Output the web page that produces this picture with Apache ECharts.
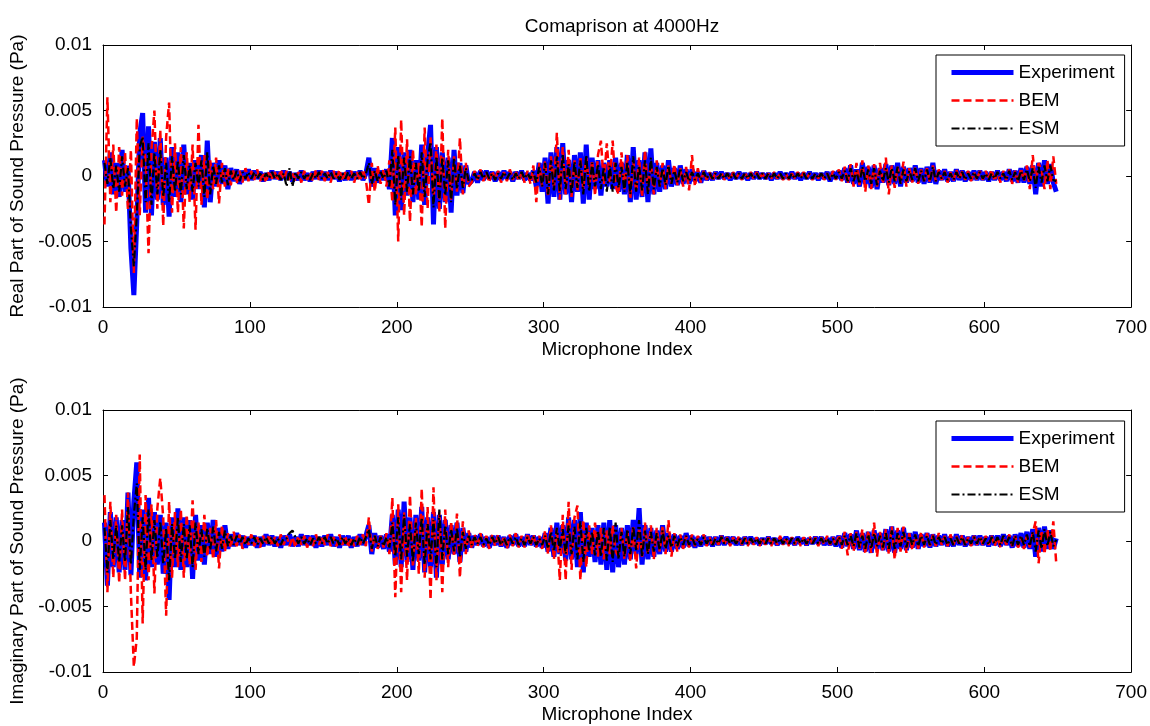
<!DOCTYPE html>
<html>
<head>
<meta charset="utf-8">
<script src="https://cdn.jsdelivr.net/npm/echarts@6/dist/echarts.min.js"></script>
<style>
  html, body { margin: 0; padding: 0; background: #fff; }
  #chart { width: 1150px; height: 726px; }
</style>
</head>
<body>
<div id="chart"></div>
<script>
// pressure values in units of 1e-4 Pa, one value every second microphone (1, 3, 5 ... 649)
const UNIT = 1e-4;

const realExp = [
  12,-8,18,-14,10,-16,20,-12,8,-55,-91,-35,32,48,-28,38,-30,26,-18,29,-22,14,-31,22,-16,
  18,-20,24,-14,10,-18,12,-10,16,-24,27,-20,10,-8,12,-6,8,-10,6,-4,5,-6,4,-3,5,
  -3,4,-2,3,-4,2,-3,4,-2,3,-3,4,-2,3,-4,2,-3,4,-3,2,-4,3,-2,4,-3,
  3,-3,4,-2,3,-4,2,-3,4,-3,3,-2,4,-3,2,14,-8,6,-5,4,-3,5,-10,29,-30,
  22,-26,18,-15,20,-20,12,-18,24,-22,16,39,-37,22,-25,18,-20,14,-28,20,-15,10,-13,8,-6,
  -4,3,-5,4,-3,4,-2,3,-4,3,-3,4,-2,3,-4,3,-2,4,-3,2,-3,4,-8,10,-12,
  14,-21,18,-16,22,-18,25,-14,12,-20,16,-12,18,-21,24,-18,14,-10,12,-15,10,-8,12,-10,14,
  -12,10,-14,16,-20,22,-18,12,-16,18,-20,21,-14,10,-12,8,-10,12,-8,6,-7,8,-6,5,-6,
  5,-4,3,-5,4,-3,2,-3,3,-2,3,-2,2,-3,2,-2,3,-2,2,-3,2,-2,3,-2,2,
  -2,2,-3,2,-2,3,-2,2,-2,3,-2,2,-3,2,-2,3,-2,2,-3,2,-2,3,-4,3,-2,
  4,-3,6,-5,8,-6,5,-8,10,-6,7,-9,8,-10,6,-5,9,-7,8,-6,10,-8,7,-5,6,
  -4,8,-5,6,-6,7,-5,10,-6,4,-3,5,-4,3,-4,5,-3,4,-4,3,-3,4,-3,4,-3,
  3,-4,3,-3,4,-3,3,-4,5,-4,4,-5,6,-5,7,-6,8,-14,10,-8,12,-6,9,-5,-12
];
const realBem = [
  -37,60,-20,24,-28,22,-15,18,-26,20,-74,44,-30,30,12,-59,20,50,-25,35,-38,30,56,-28,25,
  -28,22,-40,18,-20,24,-41,39,-22,16,-18,12,-10,14,-21,10,-8,6,-7,5,-6,4,-5,6,-4,
  4,-3,5,-4,3,-5,4,-2,3,-4,5,-3,4,-3,2,-4,3,-5,4,-3,3,-4,5,-3,4,
  -4,3,-5,4,-3,5,-4,3,-3,4,-5,3,-4,5,-3,-22,10,-12,8,-6,5,-8,12,-20,37,
  -50,43,-30,28,-35,20,-15,10,-39,37,-25,30,-20,24,-28,44,-40,20,-18,15,-12,29,-14,10,-8,
  -5,4,-3,5,-4,3,-5,4,-3,4,-5,3,-4,5,-3,4,-4,3,-5,4,-6,8,-20,10,-8,
  12,-16,15,-10,33,-18,22,-14,20,-16,12,-12,15,-10,14,-8,12,-15,16,27,-6,25,-5,27,-8,
  -14,18,-10,16,-18,12,-12,14,-16,20,-12,10,-14,12,-8,10,-10,8,-6,9,-7,6,-8,7,-11,
  16,-8,6,-5,4,-3,3,-4,3,-2,3,-3,2,-3,3,-2,2,-3,3,-2,3,-2,3,-2,2,
  -3,2,-2,3,-2,2,-3,2,-3,2,-2,3,-2,3,-2,2,-3,2,-2,3,-3,2,-3,4,-3,
  5,-4,7,-6,9,-8,10,-7,12,-12,8,-10,9,-8,10,-6,14,-14,8,-9,7,-6,11,-8,6,
  -5,7,-6,5,-4,6,-5,8,-4,5,-3,4,-5,3,-4,5,-3,4,-3,4,-4,3,-3,4,-3,
  4,-3,5,-4,3,-5,4,-3,5,-6,4,-5,6,-4,8,-10,16,-6,10,4,-10,12,-10,15,-6
];
const realEsm = [
  10,-6,14,-10,8,-12,15,-8,6,-40,-69,-30,22,30,-20,25,-22,18,-14,20,-16,10,-20,15,-12,
  12,-14,16,-10,8,-12,10,-8,12,-16,18,-14,8,-6,8,-5,6,-7,4,-3,4,-4,3,-2,3,
  -2,3,-2,2,-3,2,-2,3,-2,2,-3,2,-8,6,-8,3,-2,3,-2,2,-3,2,-2,3,-2,
  2,-2,3,-2,2,-3,2,-2,3,-2,2,-2,3,-2,2,10,-6,4,-4,3,-2,4,-8,20,-22,
  16,-18,14,-12,15,-14,10,-12,18,-16,12,26,-24,15,-20,14,-15,12,-20,14,-10,8,-9,6,-4,
  -3,2,-3,3,-2,3,-2,2,-3,2,-2,3,-2,2,-3,2,-2,3,-2,2,-2,3,-5,7,-8,
  10,-14,12,-11,15,-12,17,-10,9,-14,11,-9,12,-14,16,-12,10,-8,9,-10,7,-12,8,-12,10,
  -9,7,-12,11,-14,15,-12,8,-11,12,-14,14,-10,7,-8,6,-7,8,-6,4,-5,6,-4,3,-4,
  3,-3,2,-3,3,-2,2,-2,2,-2,2,-2,2,-2,2,-2,2,-2,2,-2,2,-2,2,-2,2,
  -2,2,-2,2,-2,2,-2,2,-2,2,-2,2,-2,2,-2,2,-2,2,-2,2,-2,2,-3,2,-2,
  3,-2,4,-4,6,-4,4,-6,7,-4,5,-6,6,-7,4,-4,6,-5,6,-4,7,-6,5,-4,4,
  -3,6,-4,4,-4,5,-4,7,-4,3,-2,3,-3,2,-3,3,-2,3,-3,2,-2,3,-2,3,-2,
  2,-3,2,-2,3,-2,2,-3,4,-3,3,-4,4,-3,5,-4,6,-9,7,-5,8,-4,8,-3,-4
];

const imagExp = [
  14,-34,22,-20,18,-24,16,-22,37,-26,30,60,-28,24,-30,33,-20,22,-18,20,-25,14,-45,18,-20,
  25,-22,18,-20,16,-29,20,-15,12,-18,14,-10,16,-12,10,-8,12,-6,5,-4,6,-3,4,-5,3,
  -3,4,-5,3,-4,5,-3,4,-4,3,-5,4,-3,5,-4,3,-4,5,-3,4,-3,4,-5,3,-4,
  4,-3,5,-4,3,-5,4,-3,4,-5,3,-4,5,-3,4,12,-10,6,-5,4,-6,5,-8,20,-18,
  24,-20,30,-16,18,-22,20,-15,26,-24,18,-20,22,-28,20,-18,16,-14,12,-10,14,-16,10,-8,6,
  -5,4,-3,5,-4,3,-5,4,-3,4,-4,3,-5,4,-3,5,-4,3,-4,5,-3,4,-4,3,-5,
  6,-8,10,-12,14,-10,12,-15,18,-14,16,-20,22,-24,14,-12,10,-16,12,-18,14,-22,16,-24,12,
  -20,10,-18,12,-14,16,-10,25,-18,12,-14,10,-12,8,-10,12,-8,6,-8,5,-6,4,-5,6,-4,
  4,-5,3,-4,4,-3,3,-4,3,-3,4,-3,3,-2,3,-3,2,-3,3,-2,3,-2,2,-3,2,
  -2,3,-2,2,-3,2,-2,3,-2,2,-3,3,-2,2,-3,2,-2,3,-2,3,-3,2,-3,3,-4,
  4,-5,6,-4,5,-6,8,-7,6,-8,7,-9,8,-6,6,-7,9,-8,11,-9,8,-6,10,-7,6,
  -5,7,-6,5,-4,6,-5,5,-4,4,-3,5,-4,3,-4,5,-3,4,-4,3,-3,4,-3,4,-3,
  3,-4,4,-3,4,-4,5,-3,4,-5,5,-4,6,-5,7,-6,9,-12,10,-8,11,-6,8,-6,2
];
const imagBem = [
  35,-39,30,-28,20,-32,24,-30,37,-40,-96,-74,66,-63,35,-30,28,-40,25,48,18,-57,30,-28,22,
  -20,24,-28,20,-18,31,-22,14,-16,20,-12,10,-14,16,-21,12,-8,6,-5,7,-4,5,-6,4,-3,
  5,-4,3,-5,4,-3,5,-4,3,-4,5,-3,4,-4,3,-5,4,-3,4,-5,3,-4,5,-3,4,
  -3,5,-4,3,-4,5,-3,4,-5,3,-4,4,-3,5,-4,18,-8,5,-6,4,-5,6,-10,33,-43,
  28,-39,22,-30,35,-20,18,-25,40,-28,26,-45,41,-30,22,-39,24,-20,15,-12,21,-28,15,-10,8,
  -6,5,-4,6,-5,4,-6,5,-4,5,-5,4,-6,5,-4,6,-5,4,-5,6,-4,5,-5,4,-6,
  8,-10,12,-14,10,-30,20,-30,30,-22,18,27,-30,16,-20,12,-10,14,-12,10,-14,8,-10,12,-8,
  -12,10,-14,8,-16,12,-21,10,-12,14,-10,12,-14,10,-8,12,-10,16,-12,6,-8,5,-6,4,-5,
  5,-4,4,-3,5,-4,3,-4,3,-3,4,-3,3,-4,3,-3,4,-3,3,-4,3,-3,3,-4,3,
  -3,3,-4,3,-3,4,-3,3,-4,3,-3,3,-4,3,-3,4,-3,3,-4,3,-3,4,-3,3,-4,
  5,-6,7,-11,6,-8,7,-6,9,-10,8,-9,14,-12,7,-8,9,-10,11,-14,10,-8,11,-9,6,
  -7,5,-6,7,-5,6,-4,5,-4,6,-3,4,-4,5,-3,4,-3,5,-4,3,-4,4,-3,4,-3,
  4,-3,4,-4,3,-5,4,-3,5,-4,4,-5,3,-6,4,-5,6,15,-17,8,-10,9,-8,15,-17
];
const imagEsm = [
  10,-24,16,-14,12,-16,12,-16,26,-18,20,44,-22,18,-22,24,-15,16,-13,15,-18,10,-30,13,-14,
  18,-16,13,-14,12,-20,14,-10,9,-12,10,-7,11,-8,7,-6,8,-4,4,-3,4,-2,3,-3,2,
  -2,3,-3,2,-2,3,-2,3,-2,2,-3,2,2,6,8,3,-2,3,-2,2,-3,2,-2,3,-2,
  3,-2,3,-2,2,-3,3,-2,2,-3,2,-3,3,-2,3,9,-6,4,-4,3,-4,3,-5,14,-12,
  18,-14,20,-12,13,-16,14,-10,18,-18,13,-14,16,-20,24,-14,12,-10,9,-8,10,-12,7,-6,4,
  -3,3,-2,3,-3,2,-3,3,-2,3,-3,2,-3,3,-2,3,-3,2,-3,3,-2,3,-3,2,-3,
  4,-6,7,-8,10,-7,9,-10,12,-10,11,-14,15,-16,10,-8,7,-11,8,-12,10,-15,11,-16,14,
  -14,7,-12,9,-10,11,-7,16,-12,8,-10,7,-8,6,-7,8,-6,4,-5,4,-4,3,-3,4,-3,
  3,-3,2,-3,3,-2,2,-3,2,-2,3,-2,2,-2,2,-2,2,-2,2,-2,2,-2,2,-2,2,
  -2,2,-2,2,-2,2,-2,2,-2,2,-2,2,-2,2,-2,2,-2,2,-2,2,-2,2,-2,2,-3,
  3,-3,4,-3,4,-4,6,-5,4,-6,5,-6,6,-4,4,-5,6,-6,8,-6,6,-4,7,-5,4,
  -3,5,-4,4,-3,4,-3,4,-3,3,-2,3,-3,2,-3,3,-2,3,-3,2,-2,3,-2,3,-2,
  2,-3,3,-2,3,-3,4,-2,3,-4,4,-3,4,-3,5,-4,7,-8,8,-6,9,-4,7,-4,1
];

const xTicks = [0, 100, 200, 300, 400, 500, 600, 700];
const yTicks = [-0.01, -0.005, 0, 0.005, 0.01];
const seriesNames = ['Experiment', 'BEM', 'ESM'];
const micIndex = realExp.map((_, i) => 2 * i + 1);

const FONT = 'Liberation Sans, Arial, sans-serif';
const textBase = { color: '#000', fontSize: 19, fontFamily: FONT };

const styles = [
  { color: '#0000ff', width: 5 },
  { color: '#ff0000', width: 2.5, type: [8, 4] },
  { color: '#000000', width: 2.2, type: [8, 3, 2, 3] }
];

function pts(vals) {
  return vals.map((v, i) => [micIndex[i], v * UNIT]);
}

function xAxes(grid, withName) {
  let common = {
    gridIndex: grid, type: 'value',
    min: xTicks[0], max: xTicks[xTicks.length - 1], interval: 100,
    axisLine: { onZero: false, lineStyle: { color: '#000', width: 1 } },
    axisTick: { inside: true, length: 5, lineStyle: { color: '#000' } },
    splitLine: { show: false }
  };
  return [
    Object.assign({}, common, {
      position: 'bottom',
      axisLabel: Object.assign({ margin: 11 }, textBase),
      name: withName, nameLocation: 'middle', nameGap: 33,
      nameTextStyle: textBase
    }),
    Object.assign({}, common, { position: 'top', axisLabel: { show: false } })
  ];
}

function yAxes(grid, name) {
  let common = {
    gridIndex: grid, type: 'value',
    min: yTicks[0], max: yTicks[yTicks.length - 1], interval: 0.005,
    axisLine: { onZero: false, lineStyle: { color: '#000', width: 1 } },
    axisTick: { inside: true, length: 5, lineStyle: { color: '#000' } },
    splitLine: { show: false }
  };
  return [
    Object.assign({}, common, {
      position: 'left',
      axisLabel: Object.assign({ margin: 11 }, textBase),
      name: name, nameLocation: 'middle', nameGap: 73,
      nameTextStyle: textBase
    }),
    Object.assign({}, common, { position: 'right', axisLabel: { show: false } })
  ];
}

function plotSeries(axisIdx, exp, bem, esm) {
  return [exp, bem, esm].map((vals, k) => ({
    name: seriesNames[k], type: 'line', xAxisIndex: axisIdx, yAxisIndex: axisIdx,
    data: pts(vals), symbol: 'none', z: 2 + k, silent: true,
    lineStyle: styles[k],
    itemStyle: { color: styles[k].color }
  }));
}

function legendAt(top) {
  return {
    left: 936, top: top, orient: 'vertical',
    data: seriesNames.map((n, k) => ({
      name: n,
      itemStyle: { opacity: 0 },
      lineStyle: Object.assign({}, styles[k])
    })),
    selectedMode: false,
    itemWidth: 62, itemHeight: 14, itemGap: 9,
    padding: [8, 10, 8, 13],
    borderColor: '#000', borderWidth: 1, backgroundColor: '#fff',
    textStyle: textBase
  };
}

let chart = echarts.init(document.getElementById('chart'), null, { renderer: 'canvas' });

let option = {
  backgroundColor: '#fff',
  animation: false,
  title: {
    text: 'Comaprison at 4000Hz',
    left: 617, top: 12, textAlign: 'center',
    textStyle: { color: '#000', fontSize: 19, fontWeight: 'normal', fontFamily: FONT }
  },
  legend: [legendAt(55), legendAt(421)],
  grid: [
    { left: 103, top: 45, width: 1029, height: 262 },
    { left: 103, top: 410, width: 1029, height: 262 }
  ],
  xAxis: xAxes(0, 'Microphone Index').concat(xAxes(1, 'Microphone Index')),
  yAxis: yAxes(0, 'Real Part of Sound Pressure (Pa)').concat(yAxes(1, 'Imaginary Part of Sound Pressure (Pa)')),
  series: plotSeries(0, realExp, realBem, realEsm).concat(plotSeries(2, imagExp, imagBem, imagEsm))
};

chart.setOption(option);
</script>
</body>
</html>
